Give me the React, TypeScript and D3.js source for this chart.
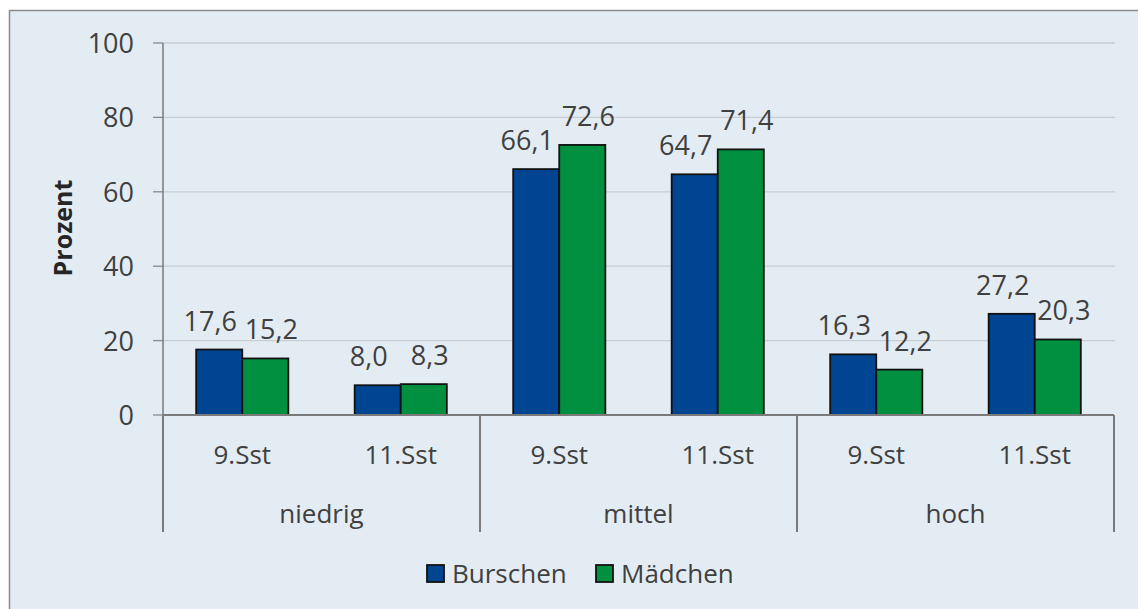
import React, { useRef, useEffect } from "react";
import * as d3 from "d3";

const groups = ["niedrig", "mittel", "hoch"];
const stages = ["9.Sst", "11.Sst"];
const series = ["Burschen", "Mädchen"];
const burschen = [17.6, 8.0, 66.1, 64.7, 16.3, 27.2];
const maedchen = [15.2, 8.3, 72.6, 71.4, 12.2, 20.3];
const yTicks = [0, 20, 40, 60, 80, 100];
const colors = ["#004592", "#009040"];

const W = 1138;
const H = 609;
const FONT = "'Open Sans', 'Liberation Sans', sans-serif";

const App = () => {
  const svgRef = useRef<SVGSVGElement>(null);

  useEffect(() => {
    const svg = d3.select(svgRef.current);
    svg.selectAll("*").remove();

    const left = 163;
    const right = 1114;
    const top = 43;
    const bottom = 415;

    // background + frame
    svg.append("rect").attr("width", W).attr("height", H).attr("fill", "#fff");
    svg
      .append("rect")
      .attr("x", 9.5)
      .attr("y", 10.5)
      .attr("width", W)
      .attr("height", H)
      .attr("fill", "#e4ecf3")
      .attr("stroke", "#8a8a8a")
      .attr("stroke-width", 1.5);

    const y = d3.scaleLinear().domain([0, 100]).range([bottom, top]);
    const xGroup = d3.scaleBand().domain(groups).range([left, right]);
    const xStage = d3.scaleBand().domain(stages).range([0, xGroup.bandwidth()]);
    const xSeries = d3
      .scaleBand()
      .domain(series)
      .range([0, xStage.bandwidth()])
      .paddingInner(0)
      .paddingOuter(0.72);

    // gridlines
    svg
      .selectAll(".grid")
      .data(yTicks.filter((t) => t > 0))
      .join("line")
      .attr("x1", left)
      .attr("x2", right + 1)
      .attr("y1", (d) => y(d))
      .attr("y2", (d) => y(d))
      .attr("stroke", "#c9cdd0")
      .attr("stroke-width", 1.3);

    // y ticks + labels
    svg
      .selectAll(".ytick")
      .data(yTicks)
      .join("line")
      .attr("x1", left - 10)
      .attr("x2", left)
      .attr("y1", (d) => y(d))
      .attr("y2", (d) => y(d))
      .attr("stroke", "#8a8a8a")
      .attr("stroke-width", 1.3);
    svg
      .selectAll(".ylab")
      .data(yTicks)
      .join("text")
      .attr("x", 134)
      .attr("y", (d) => y(d) + 10)
      .attr("text-anchor", "end")
      .attr("font-family", FONT)
      .attr("font-size", 27)
      .attr("fill", "#404040")
      .text((d) => d);

    svg
      .append("text")
      .attr("transform", `translate(72,228) rotate(-90)`)
      .attr("text-anchor", "middle")
      .attr("font-family", FONT)
      .attr("font-size", 25)
      .attr("font-weight", "bold")
      .attr("fill", "#262626")
      .text("Prozent");

    // bars
    const rows = groups.flatMap((g, gi) =>
      stages.map((s, si) => ({ g, s, vals: [burschen[gi * 2 + si], maedchen[gi * 2 + si]] }))
    );
    const bars = rows.flatMap((r) =>
      series.map((ser, k) => ({
        x: (xGroup(r.g) as number) + (xStage(r.s) as number) + (xSeries(ser) as number),
        v: r.vals[k],
        k,
      }))
    );

    svg
      .selectAll(".bar")
      .data(bars)
      .join("rect")
      .attr("x", (d) => d.x)
      .attr("y", (d) => y(d.v))
      .attr("width", xSeries.bandwidth())
      .attr("height", (d) => bottom - y(d.v))
      .attr("fill", (d) => colors[d.k])
      .attr("stroke", "#111")
      .attr("stroke-width", 1.8);

    // labels nudged apart like Excel does
    const labelDx = [-9, 6];
    svg
      .selectAll(".vlab")
      .data(bars)
      .join("text")
      .attr("x", (d) => d.x + xSeries.bandwidth() / 2 + labelDx[d.k])
      .attr("y", (d) => y(d.v) - 19)
      .attr("text-anchor", "middle")
      .attr("font-family", FONT)
      .attr("font-size", 27)
      .attr("fill", "#404040")
      .text((d) => d.v.toFixed(1).replace(".", ","));

    // category axis
    const axisColor = "#7a7a7a";
    svg
      .append("line")
      .attr("x1", left)
      .attr("x2", right)
      .attr("y1", bottom)
      .attr("y2", bottom)
      .attr("stroke", axisColor)
      .attr("stroke-width", 2);
    svg
      .append("line")
      .attr("x1", left)
      .attr("x2", left)
      .attr("y1", top)
      .attr("y2", bottom)
      .attr("stroke", axisColor)
      .attr("stroke-width", 1.5);

    const seps = groups.map((g) => xGroup(g) as number).concat([right]);
    svg
      .selectAll(".sep")
      .data(seps)
      .join("line")
      .attr("x1", (d) => d)
      .attr("x2", (d) => d)
      .attr("y1", bottom)
      .attr("y2", 532)
      .attr("stroke", axisColor)
      .attr("stroke-width", 2);

    svg
      .selectAll(".slab")
      .data(rows)
      .join("text")
      .attr("x", (d) => (xGroup(d.g) as number) + (xStage(d.s) as number) + xStage.bandwidth() / 2)
      .attr("y", 464)
      .attr("text-anchor", "middle")
      .attr("font-family", FONT)
      .attr("font-size", 26)
      .attr("fill", "#404040")
      .text((d) => d.s);

    svg
      .selectAll(".glab")
      .data(groups)
      .join("text")
      .attr("x", (d) => (xGroup(d) as number) + xGroup.bandwidth() / 2)
      .attr("y", 523)
      .attr("text-anchor", "middle")
      .attr("font-family", FONT)
      .attr("font-size", 26)
      .attr("fill", "#404040")
      .text((d) => d);

    // legend
    const legX = [427, 596];
    const leg = svg
      .selectAll(".leg")
      .data(series)
      .join("g")
      .attr("transform", (d, i) => `translate(${legX[i]},565)`);
    leg
      .append("rect")
      .attr("width", 17)
      .attr("height", 17)
      .attr("fill", (d, i) => colors[i])
      .attr("stroke", "#111")
      .attr("stroke-width", 1.8);
    leg
      .append("text")
      .attr("x", 25)
      .attr("y", 18)
      .attr("font-family", FONT)
      .attr("font-size", 26)
      .attr("fill", "#404040")
      .text((d) => d);
  }, []);

  return (
    <svg
      ref={svgRef}
      width={W}
      height={H}
      style={{ position: "absolute", left: 0, top: 0, display: "block" }}
    ></svg>
  );
};

export default App;
